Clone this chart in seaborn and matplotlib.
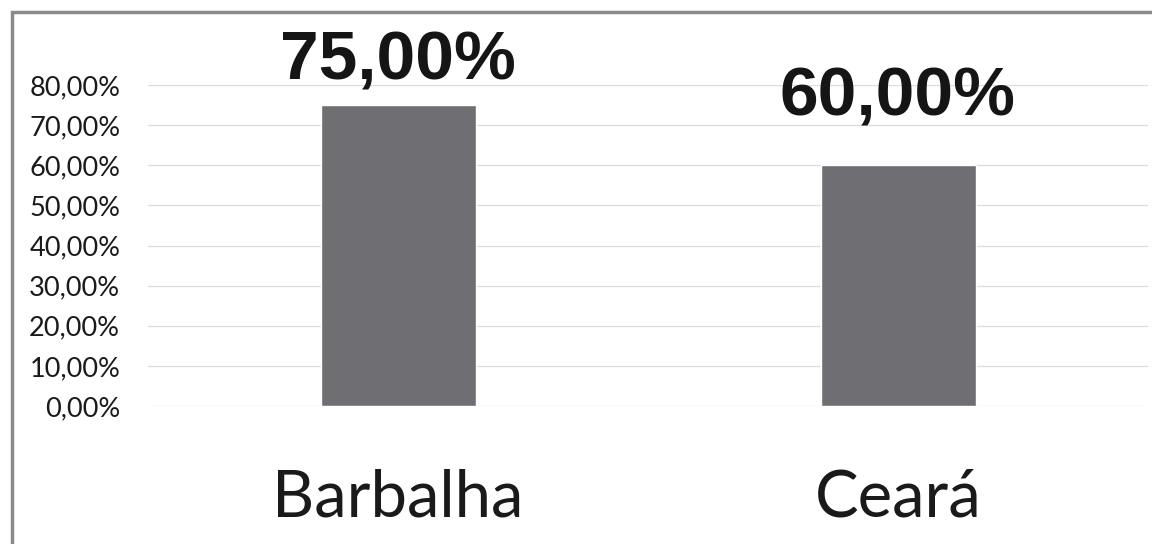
import matplotlib
matplotlib.use("Agg")
import matplotlib.pyplot as plt
from matplotlib.patches import Rectangle
import seaborn as sns
import pandas as pd

# Share of the indicator by region
regions = ["Barbalha", "Ceará"]
shares = [0.75, 0.60]
y_ticks = [0.0, 0.1, 0.2, 0.3, 0.4, 0.5, 0.6, 0.7, 0.8]
label_offsets = [8, 26]  # points above each bar for its value label

def pct_br(v):
    return f"{v * 100:.2f}".replace(".", ",") + "%"

df = pd.DataFrame({"region": regions, "share": shares})

sns.set_theme(style="white")
plt.rcParams["font.family"] = ["Lato", "DejaVu Sans"]

fig = plt.figure(figsize=(11.52, 5.44), dpi=100)
ax = fig.add_axes([148 / 1152, 1 - 406 / 544, 1000 / 1152, 321 / 544])

sns.barplot(data=df, x="region", y="share", color="#6f6f73", saturation=1,
            width=0.31, ax=ax, zorder=3)

ax.set_ylim(0, 0.8)
ax.set_yticks(y_ticks)
ax.set_yticklabels([pct_br(t) for t in y_ticks], fontsize=19.5, color="#1a1a1a")
ax.tick_params(axis="y", length=0, pad=20)
ax.tick_params(axis="x", length=0, pad=45, labelsize=47, labelcolor="#1a1a1a")
ax.set_xlabel("")
ax.set_ylabel("")
ax.grid(axis="y", color="#c8c8c8", linewidth=0.9, linestyle=(0, (1, 0.6)), zorder=0)
for s in ax.spines.values():
    s.set_visible(False)

for patch, v, off in zip(ax.patches, shares, label_offsets):
    ax.annotate(pct_br(v), (patch.get_x() + patch.get_width() / 2, v),
                xytext=(0, off), textcoords="offset points",
                ha="center", va="bottom", fontsize=50, fontweight="bold",
                family=["Liberation Sans", "DejaVu Sans"], color="#151515",
                annotation_clip=False)

# Outer frame around the chart area
fig.patches.append(Rectangle((12 / 1152, -0.1), 1.2, 1 - 12 / 544 + 0.1,
                             transform=fig.transFigure, fill=False,
                             edgecolor="#8a8a8a", linewidth=2.5, zorder=0))

fig.savefig("out.png", dpi=100, facecolor="white")
